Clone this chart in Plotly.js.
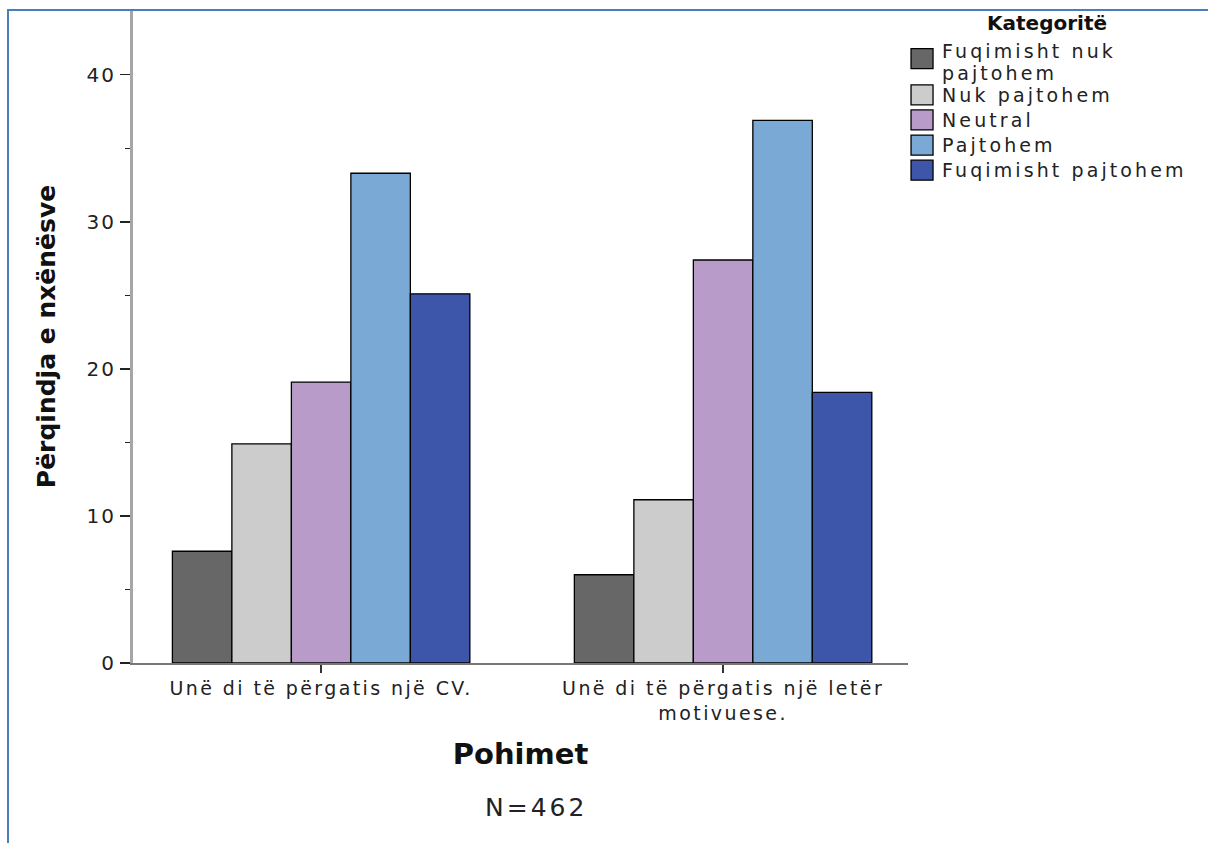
<!DOCTYPE html>
<html>
<head>
<meta charset="utf-8">
<script src="https://cdn.plot.ly/plotly-3.0.1.min.js"></script>
<style>
  html, body { margin: 0; padding: 0; background: #fff; }
  #wrap { position: relative; width: 1208px; height: 843px; }
  #chart { width: 1208px; height: 843px; }
  #frame { position: absolute; left: 7px; top: 9px; width: 1210px; height: 850px;
           border-left: 2px solid #4a7ebb; border-top: 2px solid #4a7ebb; pointer-events: none; }
  .xtick text { letter-spacing: 2.4px; }
  .ytick text { letter-spacing: 2px; }
  .legendtext { letter-spacing: 3.1px; font-size: 19px !important; }
  .annotation-text { letter-spacing: 3px; }
  .legend .legendpoints path { d: path("M11,10H-11V-10H11Z") !important; }
</style>
</head>
<body>
<div id="wrap">
  <div id="chart"></div>
  <div id="frame"></div>
</div>
<script>
const categories = ["Unë di të përgatis një CV.", "Unë di të përgatis një letër<br>motivuese."];
const seriesNames = ["Fuqimisht nuk<br>pajtohem", "Nuk pajtohem", "Neutral", "Pajtohem", "Fuqimisht pajtohem"];
const fuqimishtNukPajtohem = [7.6, 6.0];
const nukPajtohem = [14.9, 11.1];
const neutral = [19.1, 27.4];
const pajtohem = [33.3, 36.9];
const fuqimishtPajtohem = [25.1, 18.4];
const seriesValues = [fuqimishtNukPajtohem, nukPajtohem, neutral, pajtohem, fuqimishtPajtohem];
const colors = ["#676767", "#cccccc", "#b99bc9", "#7ba9d6", "#3e56aa"];
const yTickVals = [0, 10, 20, 30, 40];
const yTickText = ["0", "10", "20", "30", "40"];

const font = "DejaVu Sans, Verdana, sans-serif";

const traces = seriesNames.map((name, i) => ({
  type: "bar",
  name: name,
  x: categories,
  y: seriesValues[i],
  marker: { color: colors[i], line: { color: "#000", width: 1.3 } },
  hoverinfo: "y+name"
}));

const layout = {
  width: 1208, height: 843,
  margin: { l: 133, r: 300, t: 10, b: 180, autoexpand: false },
  paper_bgcolor: "#fff", plot_bgcolor: "#fff",
  barmode: "group",
  bargap: 0.26, bargroupgap: 0,
  showlegend: true,
  font: { family: font, color: "#222" },
  xaxis: {
    type: "category",
    range: [-0.468, 1.46],
    showline: true, linecolor: "#777", linewidth: 1.5,
    ticks: "outside", ticklen: 8, tickcolor: "#333", tickwidth: 1.5,
    tickfont: { family: font, size: 19, color: "#222" },
    showgrid: false, zeroline: false,
    title: { text: "<b>Pohimet</b>", font: { family: font, size: 29, color: "#111" }, standoff: 20 }
  },
  yaxis: {
    range: [0, 44.4],
    tickvals: yTickVals, ticktext: yTickText,
    showline: true, linecolor: "#a5a5a5", linewidth: 3,
    ticks: "outside", ticklen: 10, tickcolor: "#222", tickwidth: 1.5,
    minor: { dtick: 5, ticklen: 5, tickcolor: "#222", tickwidth: 1.2, showgrid: false },
    tickfont: { family: font, size: 20, color: "#222" },
    showgrid: false, zeroline: false,
    title: { text: "<b>Përqindja e nxënësve</b>", font: { family: font, size: 25, color: "#111" }, standoff: 24 }
  },
  legend: {
    x: 0.9923, xanchor: "left", y: 1.009, yanchor: "top",
    bgcolor: "rgba(0,0,0,0)",
    font: { family: font, size: 17, color: "#222" },
    tracegroupgap: 0,
    itemclick: false,
    title: { text: "<b>Kategoritë</b>", side: "top center", font: { family: font, size: 20, color: "#111" } }
  },
  annotations: [{
    text: "N=462", xref: "paper", yref: "paper", x: 0.52, y: -0.222,
    xanchor: "center", yanchor: "middle", showarrow: false,
    font: { family: font, size: 25, color: "#222" }
  }]
};

Plotly.newPlot("chart", traces, layout, { displayModeBar: false, staticPlot: true }).then(gd => {
  // tighten the wrapped legend label, as in the reference
  gd.querySelectorAll(".legend .legendtext").forEach(t => {
    const lines = t.querySelectorAll("tspan.line");
    if (lines.length > 1) {
      lines[0].setAttribute("dy", "0.2em");
      lines[1].setAttribute("dy", "1.35em");
    }
  });
});
</script>
</body>
</html>
